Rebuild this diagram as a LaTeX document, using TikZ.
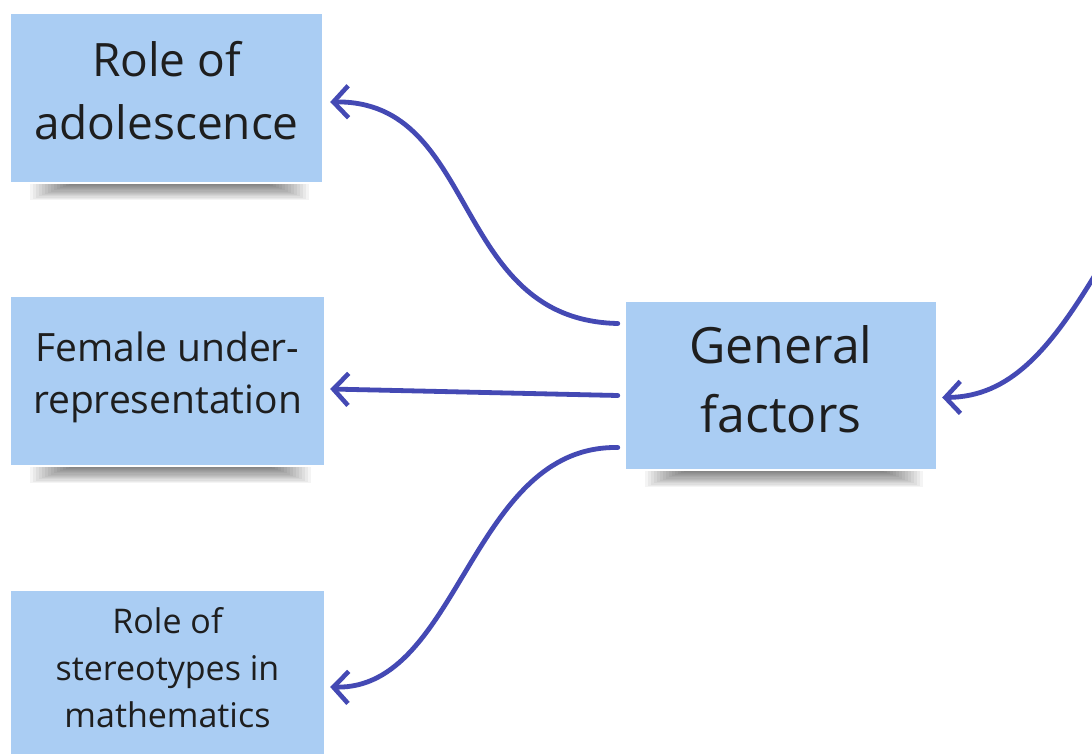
\documentclass[tikz,border=0pt]{standalone}
\usepackage{fontspec}
\setmainfont{Open Sans}
\usetikzlibrary{arrows.meta,calc}
\pgfdeclarelayer{paper}
\pgfdeclarelayer{shade}
\pgfsetlayers{paper,shade,main}
\definecolor{note}{HTML}{AACDF3}
\definecolor{ink}{HTML}{1E1E1E}
\definecolor{link}{HTML}{4449B4}
\tikzset{
  sticky/.style={rectangle, fill=note, draw=none, inner sep=0pt,
    minimum width=#1, minimum height=168pt},
  notetext/.style={text=ink, align=center, inner sep=0pt},
  linkarrow/.style={draw=link, line width=4.8pt, line cap=round,
    -{Straight Barb[length=15pt,width=32pt,line width=4.6pt]}},
}
% soft shadow under the lower edge of a sticky note
\newcommand{\noteshadow}[1]{%
  \begin{pgfonlayer}{shade}
    \foreach \k in {1,...,14}{
      \fill[black, opacity=0.042]
        ($(#1.south west)+(16+3*\k pt,-2pt)$) rectangle ($(#1.south east)+(-10-3*\k pt,{-19pt+1.2pt*\k})$);
    }
  \end{pgfonlayer}}
\begin{document}
\begin{tikzpicture}[x=1pt,y=-1pt]
\begin{pgfonlayer}{paper}
  \fill[white] (0,0) rectangle (1092,754);
\end{pgfonlayer}
\useasboundingbox (0,0) rectangle (1092,754);

\node[sticky=311pt] (ado) at (166.5,98) {};
\node[notetext, font=\fontsize{46}{63}\selectfont] (adotext) at (166.5,91)
  {Role of\\adolescence};
\node[sticky=313pt] (fem) at (167.5,381) {};
\node[notetext, font=\fontsize{39}{52}\selectfont] (femtext) at (167.5,377)
  {Female under-\\representation};
\node[sticky=313pt] (ste) at (167.5,675) {};
\node[notetext, font=\fontsize{34}{47}\selectfont] (stetext) at (167.5,668)
  {Role of\\stereotypes in\\mathematics};
\node[sticky=310pt, minimum height=167pt] (gen) at (781,385.5) {};
\node[notetext, font=\fontsize{50}{69}\selectfont] (gentext) at (781,379)
  {General\\factors};

\noteshadow{ado}
\noteshadow{fem}
\noteshadow{gen}

% arrows leaving the central note
\draw[linkarrow] ($(gen.west)+(-8,-62)$) .. controls (450,320) and (480,100) .. ($(ado.east)+(8,4)$);
\draw[linkarrow] ($(gen.west)+(-8,10)$) -- ($(fem.east)+(6,8)$);
\draw[linkarrow] ($(gen.west)+(-8,62)$) .. controls (470,445) and (460,690) .. ($(ste.east)+(6,12)$);

% arrow arriving from the right
\coordinate (incoming) at (1098,270);
\draw[linkarrow] (incoming) .. controls (1050,350) and (1010,397) .. ($(gen.east)+(6,12)$);
\end{tikzpicture}
\end{document}
